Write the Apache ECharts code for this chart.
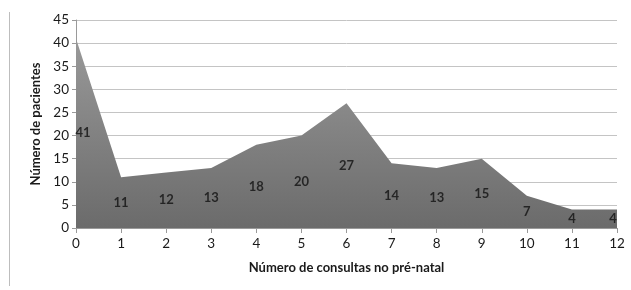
<!DOCTYPE html>
<html>
<head>
<meta charset="utf-8">
<script src="https://cdn.jsdelivr.net/npm/echarts@6/dist/echarts.min.js"></script>
<style>
  html, body { margin: 0; padding: 0; background: #fff; }
  #chart { width: 631px; height: 290px; }
</style>
</head>
<body>
<div id="chart"></div>
<script>
const consultas = ['0', '1', '2', '3', '4', '5', '6', '7', '8', '9', '10', '11', '12'];
const pacientes = [41, 11, 12, 13, 18, 20, 27, 14, 13, 15, 7, 4, 4];
const yTicks = { min: 0, max: 45, interval: 5 };

const font = 'Lato, "Open Sans", sans-serif';

// labels sit halfway up the area, like the original; end labels pulled inside
const labelData = pacientes.map((v, i) => {
  const item = { value: v / 2 };
  if (i === 0) item.label = { offset: [7, 0] };
  if (i === pacientes.length - 1) item.label = { offset: [-4, 0] };
  return item;
});

const chart = echarts.init(document.getElementById('chart'));

chart.setOption({
  animation: false,
  grid: { left: 76, right: 14, top: 20, bottom: 62 },
  graphic: [{
    type: 'line',
    shape: { x1: 9.5, y1: 12, x2: 9.5, y2: 286 },
    style: { stroke: '#bdbdbd', lineWidth: 1 }
  }],
  xAxis: {
    type: 'category',
    data: consultas,
    boundaryGap: false,
    name: 'Número de consultas no pré-natal',
    nameLocation: 'middle',
    nameGap: 33,
    nameTextStyle: { fontFamily: font, fontWeight: 'bold', fontSize: 13, color: '#1a1a1a' },
    axisLine: { lineStyle: { color: '#9a9a9a' } },
    axisTick: { length: 5, lineStyle: { color: '#9a9a9a' } },
    axisLabel: { fontFamily: font, fontSize: 13.5, color: '#1a1a1a', margin: 9 }
  },
  yAxis: {
    type: 'value',
    min: yTicks.min,
    max: yTicks.max,
    interval: yTicks.interval,
    name: 'Número de pacientes',
    nameLocation: 'middle',
    nameGap: 33,
    nameTextStyle: { fontFamily: font, fontWeight: 'bold', fontSize: 13, color: '#1a1a1a' },
    axisLine: { show: true, lineStyle: { color: '#9a9a9a' } },
    axisTick: { show: true, length: 4, lineStyle: { color: '#9a9a9a' } },
    axisLabel: { fontFamily: font, fontSize: 13.5, color: '#1a1a1a', margin: 7 },
    splitLine: { lineStyle: { color: '#c4c4c4', width: 1 } }
  },
  series: [
    {
      type: 'line',
      data: pacientes,
      symbol: 'none',
      lineStyle: { width: 0 },
      areaStyle: {
        opacity: 1,
        color: new echarts.graphic.LinearGradient(0, 0, 0, 1, [
          { offset: 0, color: '#999999' },
          { offset: 1, color: '#6b6b6b' }
        ])
      }
    },
    {
      type: 'scatter',
      data: labelData,
      symbol: 'circle',
      symbolSize: 2,
      itemStyle: { color: 'rgba(0,0,0,0)' },
      label: {
        show: true,
        position: 'inside',
        formatter: p => pacientes[p.dataIndex],
        fontFamily: font,
        fontWeight: 'bold',
        fontSize: 13,
        color: '#111'
      },
      z: 5
    }
  ]
});
</script>
</body>
</html>
